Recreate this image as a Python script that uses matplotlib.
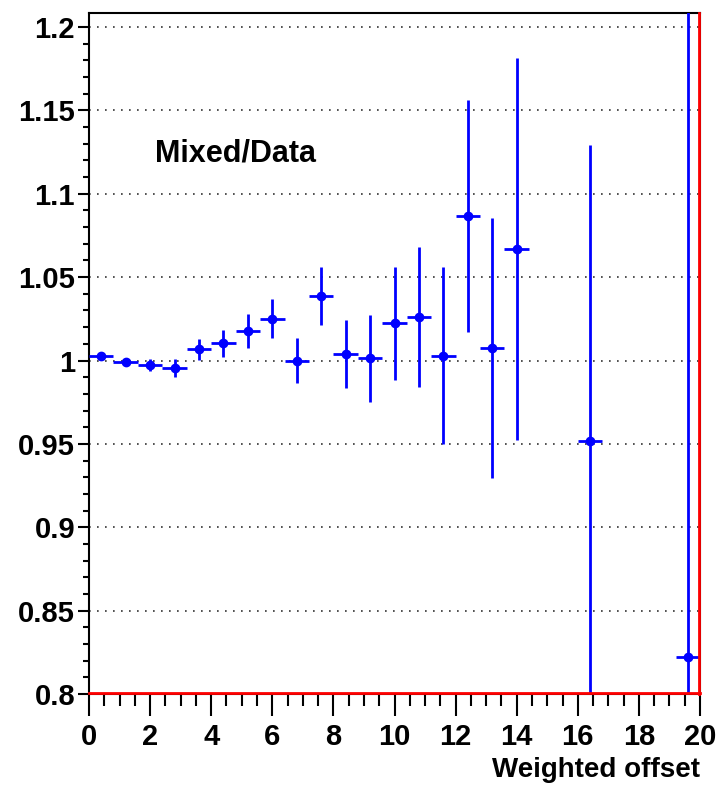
import numpy as np
import matplotlib.pyplot as plt
from matplotlib.ticker import MultipleLocator, FormatStrFormatter
import matplotlib.transforms as mtransforms

# ratio per bin of weighted offset (bin width 0.8)
offset = [0.4, 1.2, 2.0, 2.8, 3.6, 4.4, 5.2, 6.0, 6.8, 7.6,
          8.4, 9.2, 10.0, 10.8, 11.6, 12.4, 13.2, 14.0, 16.4, 19.6]
ratio = [1.003, 0.9994, 0.9976, 0.9954, 1.0066, 1.0102, 1.0176, 1.025, 1.000, 1.0386,
         1.0038, 1.0014, 1.0224, 1.0262, 1.0028, 1.0868, 1.0074, 1.067, 0.9519, 0.8221]
ratio_err = [0.002, 0.002, 0.0036, 0.0053, 0.0065, 0.0082, 0.010, 0.0118, 0.0136, 0.0172,
             0.0203, 0.026, 0.0338, 0.0418, 0.053, 0.0697, 0.0781, 0.1145, 0.1775, 0.6]
half_bin = 0.4

plt.rcParams['font.family'] = ['Liberation Sans', 'DejaVu Sans']
plt.rcParams['font.weight'] = 'bold'

fig = plt.figure(figsize=(7.19, 7.85), dpi=100)
ax = fig.add_axes([89/719, 91/785, 611/719, 681/785])

ax.errorbar(offset, ratio, yerr=ratio_err, xerr=half_bin, fmt='o', color='#0000ff',
            ms=6, elinewidth=2, capsize=0, zorder=3)

ax.set_xlim(0, 20)
ax.set_ylim(0.8, 1.2084)

# red lines along the lower and right edges of the frame
up = mtransforms.offset_copy(ax.transData, fig=fig, x=0, y=1.5, units='dots')
left = mtransforms.offset_copy(ax.transData, fig=fig, x=-1.5, y=0, units='dots')
ax.plot([0, 20], [0.8, 0.8], color='red', lw=2, transform=up, clip_on=False, zorder=4)
ax.plot([20, 20], [0.8, 1.2084], color='red', lw=2, transform=left, clip_on=False, zorder=4)

ax.xaxis.set_major_locator(MultipleLocator(2))
ax.xaxis.set_minor_locator(MultipleLocator(0.5))
ax.yaxis.set_major_locator(MultipleLocator(0.05))
ax.yaxis.set_minor_locator(MultipleLocator(0.01))
ax.yaxis.set_major_formatter(FormatStrFormatter('%g'))

ax.tick_params(axis='x', which='major', direction='out', length=16, width=1.5,
               labelsize=21, pad=5)
ax.tick_params(axis='x', which='minor', direction='out', length=8.5, width=1.5)
ax.tick_params(axis='y', which='major', direction='out', length=8, width=1.5,
               labelsize=21, pad=2)
ax.tick_params(axis='y', which='minor', direction='out', length=4.5, width=1.5)
for lab in ax.get_xticklabels() + ax.get_yticklabels():
    lab.set_fontweight('bold')

for s in ax.spines.values():
    s.set_linewidth(1.5)

ax.yaxis.grid(True, which='major', color='#333333', linestyle=(0, (1, 3.8)), lw=1.2)
ax.set_axisbelow(True)

ax.text(2.16, 1.124, 'Mixed/Data', fontsize=22, fontweight='bold', va='center')

ax.set_xlabel('Weighted offset', fontsize=20, fontweight='bold', loc='right', labelpad=4)

fig.savefig('out.png', dpi=100)
